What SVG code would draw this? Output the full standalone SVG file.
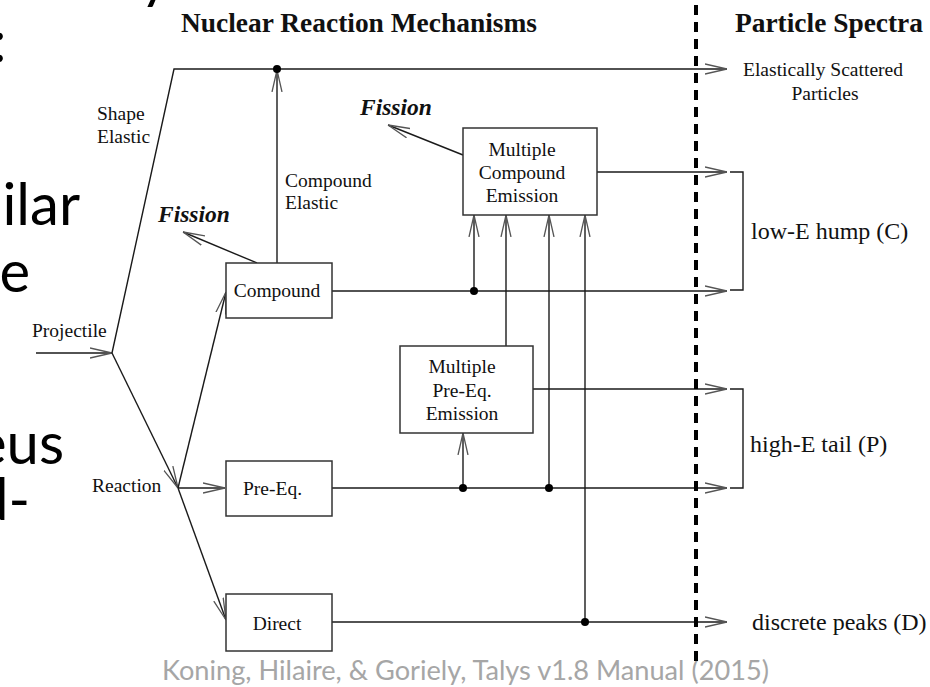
<svg xmlns="http://www.w3.org/2000/svg" width="930" height="687" viewBox="0 0 930 687">
<defs>
<style>
.ln{stroke:#1a1a1a;stroke-width:1.4;fill:none}
.bx{fill:#fff;stroke:#333;stroke-width:1.5}
.t{font-family:"Liberation Serif","Times New Roman",serif;font-size:19.5px;fill:#111}
.tb{font-family:"Liberation Serif","Times New Roman",serif;font-size:27px;font-weight:bold;fill:#111}
.ti{font-family:"Liberation Serif","Times New Roman",serif;font-size:23.5px;font-weight:bold;font-style:italic;fill:#111}
.tl{font-family:"Liberation Serif","Times New Roman",serif;font-size:24px;fill:#111}
.big{font-family:Lato,"Open Sans",sans-serif;font-size:58px;fill:#000}
.dot{fill:#000}
</style>
<marker id="arr" viewBox="0 0 22 12" refX="22" refY="6" markerWidth="22" markerHeight="12" markerUnits="userSpaceOnUse" orient="auto">
<path d="M0,1 L22,6 L0,11" fill="none" stroke="#555" stroke-width="1.3"/>
</marker>
</defs>
<rect x="0" y="0" width="930" height="687" fill="#fff"/>

<g id="slide-text">
<text class="big" x="140" y="-3">y</text>
<text class="big" x="-8" y="62">:</text>
<text class="big" x="80" y="225" text-anchor="end">ilar</text>
<text class="big" x="30" y="292" text-anchor="end">e</text>
<text class="big" x="64" y="464" text-anchor="end">eus</text>
<text class="big" x="-24" y="520">d-</text>
</g>

<g id="headings">
<text class="tb" x="181" y="32" textLength="356" lengthAdjust="spacingAndGlyphs">Nuclear Reaction Mechanisms</text>
<text class="tb" x="735" y="32" textLength="188" lengthAdjust="spacingAndGlyphs">Particle Spectra</text>
</g>

<g id="connectors">
<line class="ln" x1="36" y1="353" x2="112" y2="353" marker-end="url(#arr)"/>
<polyline class="ln" points="112,353 174,69 727,69" marker-end="url(#arr)"/>
<line class="ln" x1="112" y1="353" x2="178" y2="488" marker-end="url(#arr)"/>
<line class="ln" x1="178" y1="488" x2="226" y2="292" marker-end="url(#arr)"/>
<line class="ln" x1="178" y1="488" x2="225" y2="488" marker-end="url(#arr)"/>
<line class="ln" x1="178" y1="488" x2="226" y2="620" marker-end="url(#arr)"/>
<line class="ln" x1="277" y1="263" x2="277" y2="70" marker-end="url(#arr)"/>
<line class="ln" x1="257" y1="263" x2="183" y2="232" marker-end="url(#arr)"/>
<line class="ln" x1="332" y1="291" x2="727" y2="291" marker-end="url(#arr)"/>
<line class="ln" x1="474" y1="291" x2="474" y2="215" marker-end="url(#arr)"/>
<line class="ln" x1="597" y1="172" x2="727" y2="172" marker-end="url(#arr)"/>
<line class="ln" x1="463" y1="155" x2="388" y2="125" marker-end="url(#arr)"/>
<line class="ln" x1="506" y1="346" x2="506" y2="215" marker-end="url(#arr)"/>
<line class="ln" x1="332" y1="488" x2="727" y2="488" marker-end="url(#arr)"/>
<line class="ln" x1="463" y1="488" x2="463" y2="433" marker-end="url(#arr)"/>
<line class="ln" x1="549" y1="488" x2="549" y2="215" marker-end="url(#arr)"/>
<line class="ln" x1="533" y1="389" x2="727" y2="389" marker-end="url(#arr)"/>
<line class="ln" x1="332" y1="622" x2="727" y2="622" marker-end="url(#arr)"/>
<line class="ln" x1="585" y1="622" x2="585" y2="215" marker-end="url(#arr)"/>
<polyline class="ln" points="730,172 743,172 743,290 730,290"/>
<polyline class="ln" points="730,389 743,389 743,488 730,488"/>
<circle class="dot" cx="277" cy="69" r="4"/>
<circle class="dot" cx="474" cy="291" r="4"/>
<circle class="dot" cx="463" cy="488" r="4"/>
<circle class="dot" cx="549" cy="488" r="4"/>
<circle class="dot" cx="585" cy="622" r="4"/>
</g>

<g id="compound">
<rect class="bx" x="226" y="263" width="106" height="55"/>
<text class="t" x="277" y="297" text-anchor="middle">Compound</text>
</g>
<g id="pre-eq">
<rect class="bx" x="226" y="461" width="106" height="55"/>
<text class="t" x="243" y="495">Pre-Eq.</text>
</g>
<g id="direct">
<rect class="bx" x="226" y="594" width="106" height="57"/>
<text class="t" x="277" y="630" text-anchor="middle">Direct</text>
</g>
<g id="multiple-compound-emission">
<rect class="bx" x="463" y="128" width="134" height="87"/>
<text class="t" x="522" y="156" text-anchor="middle">Multiple</text>
<text class="t" x="522" y="179" text-anchor="middle">Compound</text>
<text class="t" x="522" y="202" text-anchor="middle">Emission</text>
</g>
<g id="multiple-pre-eq-emission">
<rect class="bx" x="400" y="346" width="133" height="87"/>
<text class="t" x="462" y="373" text-anchor="middle">Multiple</text>
<text class="t" x="462" y="397" text-anchor="middle">Pre-Eq.</text>
<text class="t" x="462" y="420" text-anchor="middle">Emission</text>
</g>

<g id="labels">
<text class="t" x="97" y="120">Shape</text>
<text class="t" x="97" y="143">Elastic</text>
<text class="t" x="32" y="337">Projectile</text>
<text class="t" x="92" y="492">Reaction</text>
<text class="t" x="285" y="187">Compound</text>
<text class="t" x="285" y="209">Elastic</text>
<text class="ti" x="158" y="222">Fission</text>
<text class="ti" x="360" y="115">Fission</text>
</g>

<g id="spectra">
<text class="t" x="743" y="76" textLength="160" lengthAdjust="spacingAndGlyphs">Elastically Scattered</text>
<text class="t" x="825" y="100" text-anchor="middle">Particles</text>
<text class="tl" x="751" y="239">low-E hump (C)</text>
<text class="tl" x="750" y="452">high-E tail (P)</text>
<text class="tl" x="752" y="630">discrete peaks (D)</text>
</g>

<text id="citation" x="162" y="680" font-family="Lato,'Open Sans',sans-serif" font-size="26" fill="#a6a6a6" textLength="607" lengthAdjust="spacingAndGlyphs">Koning, Hilaire, &amp; Goriely, Talys v1.8 Manual (2015)</text>

<line id="divider" x1="696" y1="5" x2="696" y2="667" stroke="#000" stroke-width="4" stroke-dasharray="10 7"/>
</svg>
